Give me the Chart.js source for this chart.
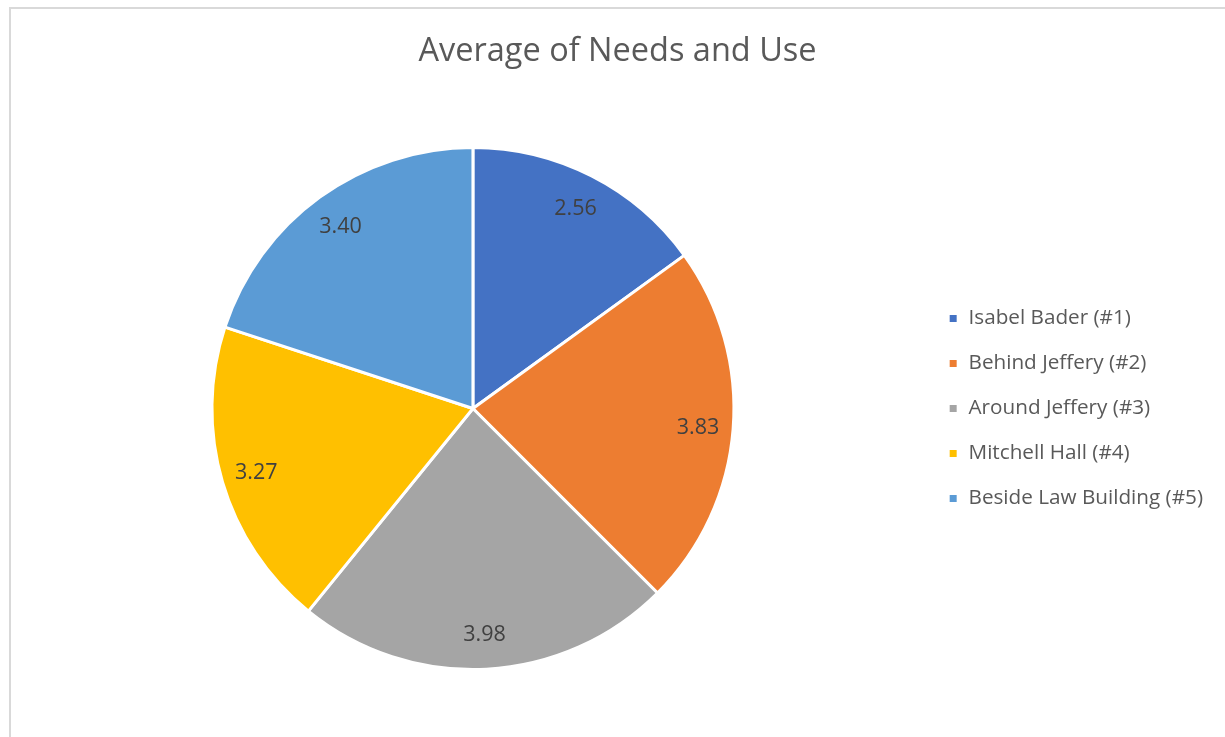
<!DOCTYPE html>
<html>
<head>
<meta charset="utf-8">
<script src="https://cdn.jsdelivr.net/npm/chart.js@4.4.0/dist/chart.umd.min.js"></script>
<style>
  html, body { margin: 0; padding: 0; background: #ffffff; overflow: hidden; }
  #frame { position: absolute; left: 9px; top: 7px; width: 1300px; height: 800px;
           border-left: 2px solid #d9d9d9; border-top: 2px solid #d9d9d9; }
  #c { position: absolute; left: 0; top: 0; }
</style>
</head>
<body>
<div id="frame"></div>
<canvas id="c" width="1225" height="737"></canvas>
<script>
const categories = ["Isabel Bader (#1)", "Behind Jeffery (#2)", "Around Jeffery (#3)", "Mitchell Hall (#4)", "Beside Law Building (#5)"];
const values = [2.56, 3.83, 3.98, 3.27, 3.40];
const colors = ["#4472C4", "#ED7D31", "#A5A5A5", "#FFC000", "#5B9BD5"];
const titleText = "Average of Needs and Use";

const FONT = "'Open Sans', sans-serif";

const dataLabels = {
  id: 'dataLabels',
  afterDatasetsDraw(chart) {
    const ctx = chart.ctx;
    const meta = chart.getDatasetMeta(0);
    ctx.save();
    ctx.font = "21.5px " + FONT;
    ctx.fillStyle = "#404040";
    ctx.textAlign = "center";
    ctx.textBaseline = "middle";
    meta.data.forEach((arc, i) => {
      const p = arc.getProps(['x', 'y', 'startAngle', 'endAngle', 'outerRadius']);
      const mid = (p.startAngle + p.endAngle) / 2;
      const r = p.outerRadius * 0.865;
      ctx.fillText(values[i].toFixed(2), p.x + Math.cos(mid) * r, p.y + 1 + Math.sin(mid) * r);
    });
    ctx.restore();
  }
};

new Chart(document.getElementById('c'), {
  type: 'pie',
  data: {
    labels: categories,
    datasets: [{
      data: values,
      backgroundColor: colors,
      borderColor: "#ffffff",
      borderWidth: 3
    }]
  },
  options: {
    responsive: false,
    devicePixelRatio: 1,
    animation: false,
    layout: { padding: { left: 22, right: 12, top: 0, bottom: 66 } },
    plugins: {
      tooltip: { enabled: false },
      title: {
        display: true,
        text: titleText,
        color: "#595959",
        font: { family: FONT, size: 32.5, weight: 'normal' },
        padding: { top: 32, bottom: 75 }
      },
      legend: {
        position: 'right',
        align: 'center',
        fullSize: false,
        labels: {
          color: "#595959",
          font: { family: FONT, size: 20.7 },
          boxWidth: 10,
          boxHeight: 10,
          padding: 24.3
        }
      }
    }
  },
  plugins: [dataLabels]
});
</script>
</body>
</html>
